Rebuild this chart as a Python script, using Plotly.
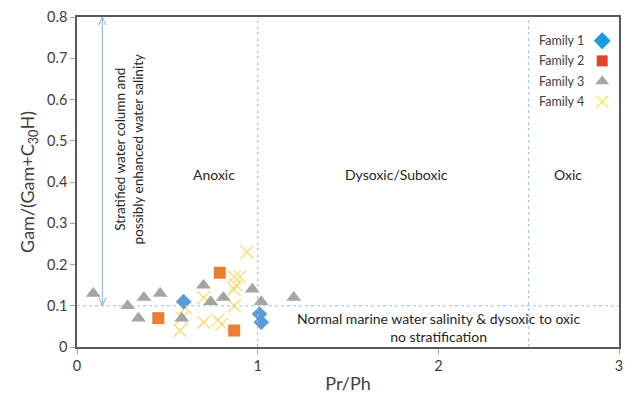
import plotly.graph_objects as go

# Data (Pr/Ph, Gam/(Gam+C30H))
f1_x = [0.59, 1.01, 1.02]
f1_y = [0.11, 0.08, 0.06]

f2_x = [0.79, 0.45, 0.87]
f2_y = [0.18, 0.07, 0.04]

f3_x = [0.09, 0.28, 0.34, 0.37, 0.46, 0.58, 0.70, 0.74, 0.81, 0.97, 1.02, 1.20]
f3_y = [0.13, 0.10, 0.07, 0.12, 0.13, 0.07, 0.15, 0.11, 0.12, 0.14, 0.11, 0.12]

f4_x = [0.94, 0.87, 0.90, 0.88, 0.87, 0.70, 0.60, 0.58, 0.57, 0.70, 0.78, 0.80, 0.87]
f4_y = [0.23, 0.17, 0.17, 0.15, 0.14, 0.12, 0.095, 0.07, 0.04, 0.06, 0.065, 0.055, 0.10]

families = ["Family 1", "Family 2", "Family 3", "Family 4"]
legend_y = [0.928, 0.867, 0.805, 0.743]

x_ticks = [0, 1, 2, 3]
y_ticks = [0, 0.1, 0.2, 0.3, 0.4, 0.5, 0.6, 0.7, 0.8]
y_ticklabels = ["0", "0.1", "0.2", "0.3", "0.4", "0.5", "0.6", "0.7", "0.8"]

FONT = "Lato"
fig = go.Figure()

fig.add_trace(go.Scatter(x=f4_x, y=f4_y, mode="markers", name="Family 4",
                         marker=dict(symbol="x-thin-open", size=13, line=dict(color="#FFD966", width=1.2), color="#FFD966"),
                         showlegend=False))
fig.add_trace(go.Scatter(x=f3_x, y=f3_y, mode="markers", name="Family 3",
                         marker=dict(symbol="triangle-up", size=13, color="#A5A5A5"), showlegend=False))
fig.add_trace(go.Scatter(x=f2_x, y=f2_y, mode="markers", name="Family 2",
                         marker=dict(symbol="square", size=12, color="#ED7D31"), showlegend=False))
fig.add_trace(go.Scatter(x=f1_x, y=f1_y, mode="markers", name="Family 1",
                         marker=dict(symbol="diamond", size=12, color="#5B9BD5"), showlegend=False))

# manual legend (markers to the right of labels, as in the reference)
leg_sym = ["diamond", "square", "triangle-up", "x-thin-open"]
leg_col = ["#1C9BDF", "#E8402B", "#A5A5A5", "#FFE033"]
leg_size = [13, 11, 12, 12]
for name, yy, s, c, sz in zip(families, legend_y, leg_sym, leg_col, leg_size):
    mk = dict(symbol=s, size=sz, color=c)
    if s == "x-thin-open":
        mk["line"] = dict(color=c, width=1.2)
    fig.add_trace(go.Scatter(x=[0.969], y=[yy], mode="markers", marker=mk,
                             xaxis="x2", yaxis="y2", showlegend=False, hoverinfo="skip"))
    fig.add_annotation(x=0.848, y=yy, xref="paper", yref="paper", text=name,
                       showarrow=False, xanchor="left", yanchor="middle",
                       font=dict(family=FONT, size=12.5, color="#404040"))

fig.add_shape(type="rect", xref="paper", yref="paper", x0=0.835, x1=0.995, y0=0.70, y1=0.965,
              fillcolor="white", line=dict(width=0), layer="below")

line_col = "#9DC3E6"
fig.add_shape(type="line", x0=1, x1=1, y0=0, y1=0.8, line=dict(color=line_col, width=1, dash="dot"))
fig.add_shape(type="line", x0=2.5, x1=2.5, y0=0, y1=0.8, line=dict(color=line_col, width=1, dash="dot"))
fig.add_shape(type="line", x0=0, x1=3, y0=0.1, y1=0.1, line=dict(color=line_col, width=1, dash="dot"))

# double-headed arrow
ax = 0.14
arr_col = "#7FB2E3"
fig.add_shape(type="line", x0=ax, x1=ax, y0=0.1, y1=0.8, line=dict(color=arr_col, width=1))
fig.add_shape(type="path", path=f"M {ax-0.02} 0.78 L {ax} 0.8 L {ax+0.02} 0.78",
              line=dict(color=arr_col, width=1))
fig.add_shape(type="path", path=f"M {ax-0.02} 0.12 L {ax} 0.1 L {ax+0.02} 0.12",
              line=dict(color=arr_col, width=1))

tf = dict(family=FONT, size=14, color="#262626")
fig.add_annotation(x=0.29, y=0.48, text="Stratified water column and<br>possibly enhanced water salinity",
                   textangle=-90, showarrow=False, font=dict(family=FONT, size=13.5, color="#262626"))
fig.add_annotation(x=0.76, y=0.417, text="Anoxic", showarrow=False, font=tf)
fig.add_annotation(x=1.77, y=0.417, text="Dysoxic/Suboxic", showarrow=False, font=tf)
fig.add_annotation(x=2.72, y=0.417, text="Oxic", showarrow=False, font=tf)
fig.add_annotation(x=2.0, y=0.048, text="Normal marine water salinity &amp; dysoxic to oxic<br>no stratification",
                   showarrow=False, font=tf)

axis_common = dict(showgrid=False, zeroline=False, showline=True, linecolor="#595959", linewidth=1.5,
                   mirror=True, ticks="outside", ticklen=5, tickcolor="#A6A6A6",
                   tickfont=dict(family=FONT, size=14.5, color="#404040"))

fig.update_layout(
    width=627, height=397,
    margin=dict(l=77, r=4, t=17, b=50),
    plot_bgcolor="white", paper_bgcolor="white",
    xaxis=dict(range=[0, 3], tickvals=x_ticks, ticktext=[str(v) for v in x_ticks],
               title=dict(text="Pr/Ph", font=dict(family=FONT, size=18, color="#404040"), standoff=4),
               **axis_common),
    yaxis=dict(range=[0, 0.8], tickvals=y_ticks, ticktext=y_ticklabels,
               title=dict(text="Gam/(Gam+C<sub>30</sub>H)", font=dict(family=FONT, size=18, color="#404040"), standoff=8),
               **axis_common),
    xaxis2=dict(overlaying="x", range=[0, 1], visible=False),
    yaxis2=dict(overlaying="y", range=[0, 1], visible=False),
    showlegend=False,
)

fig.write_html("out.html")
